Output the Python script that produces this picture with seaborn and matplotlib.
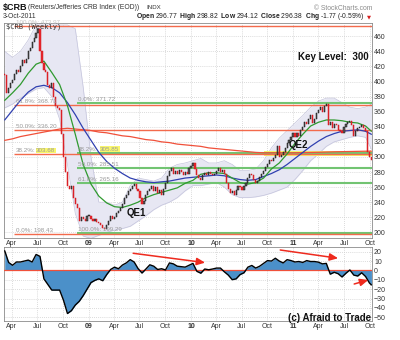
import numpy as np
import pandas as pd
import matplotlib
matplotlib.use("Agg")
import matplotlib.pyplot as plt
import seaborn as sns

# ---------------- data ----------------
first_week = "2008-03-07"
first_open = 410.0
closes = [408, 385, 392, 398, 402, 410, 415, 412, 420, 428,
          425, 430, 440, 445, 452, 458, 465, 470, 440, 425,
          415, 412, 395, 392, 398, 380, 368, 365, 362, 330,
          300, 280, 262, 258, 262, 245, 238, 232, 215, 220,
          218, 215, 222, 222, 218, 215, 218, 214, 212, 210,
          206, 205, 210, 215, 222, 218, 220, 225, 228, 232,
          238, 245, 250, 255, 258, 262, 264, 258, 255, 245,
          238, 242, 250, 255, 258, 262, 255, 260, 252, 256,
          250, 258, 265, 275, 282, 285, 278, 282, 278, 283,
          280, 276, 280, 278, 285, 288, 292, 284, 276, 272,
          270, 276, 279, 276, 280, 278, 276, 278, 282, 285,
          280, 283, 278, 265, 258, 252, 255, 250, 256, 262,
          260, 256, 262, 266, 272, 278, 276, 270, 266, 268,
          273, 278, 282, 286, 290, 296, 294, 298, 302, 314,
          300, 302, 306, 312, 318, 322, 326, 332, 326, 332,
          328, 336, 340, 346, 344, 350, 356, 345, 350, 358,
          362, 366, 360, 368, 370, 342, 346, 338, 344, 342,
          336, 334, 332, 340, 344, 346, 348, 342, 328, 334,
          338, 340, 342, 338, 334, 306, 300, 296.38]

# indicators sampled every 4th week (weeks 0,4,...,184) plus the last week
ma_green = [375, 385, 396, 411, 423, 427, 412, 396, 368, 330,
            290, 264, 248, 239, 234, 233, 236, 240, 246, 250,
            253, 256, 259, 265, 269, 277, 279, 279, 278, 272,
            266, 264, 266, 272, 284, 292, 304, 318, 330, 341,
            346, 349, 349, 348, 346, 345, 341, 334]
ma_blue = [349, 362, 375, 386, 393, 395, 392, 385, 372, 356,
           338, 322, 306, 294, 285, 278, 272, 269, 267, 266,
           267, 268, 270, 272, 273, 274, 275, 276, 275, 272,
           270, 269, 270, 274, 278, 283, 290, 298, 306, 314,
           321, 327, 331, 334, 335, 336, 334, 330]
ma_red = [322, 324, 327, 329, 331, 333, 335, 337, 338, 337,
          336, 335, 333, 332, 330, 328, 327, 325, 323, 322,
          320, 319, 317, 316, 315, 314, 312, 311, 310, 309,
          308, 307, 306, 305.5, 305.5, 305.5, 305.5, 305.5, 305.8, 306,
          306.2, 306.5, 306.8, 307, 307.2, 307.4, 307.6, 307.7]
bb_upper = [440, 432, 440, 455, 475, 482, 480, 475, 475, 470,
            393, 300, 240, 240, 236, 240, 262, 272, 270, 268,
            272, 285, 290, 292, 295, 298, 292, 292, 295, 290,
            282, 282, 284, 295, 312, 325, 335, 345, 355, 366,
            374, 378, 378, 372, 366, 364, 366, 370]
bb_lower = [365, 370, 378, 384, 390, 392, 380, 350, 290, 225,
            195, 192, 196, 200, 203, 205, 208, 215, 222, 230,
            236, 240, 246, 255, 262, 262, 264, 266, 260, 250,
            246, 246, 247, 249, 252, 256, 260, 270, 282, 295,
            304, 314, 320, 323, 326, 328, 326, 310]

# oscillator sampled every 2nd week (weeks 0,2,...,186) plus the last week
osc = [21, 8.5, 5.5, 9, 9, 10, 11, 9, 17, 15,
       -9, -15, -21, -21, -21, -32, -46, -43, -37, -33,
       -27, -20, -13, -10.6, -9, -11, -4.5, 1, 3.5, 1.8,
       5.7, 8, 11.5, 9, 2, -2.8, 1.5, 6, 4.5, 1,
       1.8, 0.5, 8, 7, 4.5, 4, 3.5, 5.5, 7.5, -1,
       -3, 1.5, 0.7, 1.5, 2.5, 2.5, -1.5, -5, -9.9, -9,
       -4.5, -2.5, 3.5, 5.3, 2.5, 4.5, 7.5, 10.5, 10, 13,
       10, 8, 11.5, 10.5, 9, 9.5, 8.5, 10.5, 9.5, 9.5,
       8.8, 7, 7.5, -4, -2, -3.5, -7, -3, 0.5, -5,
       -6, -2.5, -6.5, -13.5, -15.5]

fib1_levels = [473.97, 368.71, 336.20, 303.68, 198.43]
fib1_pcts = ["100.0%", "61.8%", "50.0%", "38.2%", "0.0%"]
fib2_levels = [371.72, 305.85, 285.51, 265.16, 199.29]
fib2_pcts = ["0.0%", "38.2%", "50.0%", "61.8%", "100.0%"]

tick_dates = ["2008-04-01", "2008-07-01", "2008-10-01", "2009-01-01",
              "2009-04-01", "2009-07-01", "2009-10-01", "2010-01-01",
              "2010-04-01", "2010-07-01", "2010-10-01", "2011-01-01",
              "2011-04-01", "2011-07-01", "2011-10-01"]
tick_labels = ["Apr", "Jul", "Oct", "09", "Apr", "Jul", "Oct", "10",
               "Apr", "Jul", "Oct", "11", "Apr", "Jul", "Oct"]
price_ticks = list(range(200, 461, 20))
osc_ticks = list(range(-50, 21, 10))

# ---------------- derived frames ----------------
dates = pd.date_range(first_week, periods=len(closes), freq="7D")
c = np.array(closes, dtype=float)
o = np.array([first_open] + closes[:-1], dtype=float)
ind_idx = list(range(0, 185, 4)) + [len(closes) - 1]
ind_dates = dates[ind_idx]
osc_idx = list(range(0, 187, 2)) + [len(closes) - 1]
osc_dates = dates[osc_idx]
ticks = pd.to_datetime(tick_dates)

# ---------------- style ----------------
sns.set_style("white")
plt.rcParams["font.family"] = ["Liberation Sans", "DejaVu Sans"]
plt.rcParams["mathtext.fontset"] = "custom"
plt.rcParams["mathtext.rm"] = "Liberation Sans"
plt.rcParams["mathtext.bf"] = "Liberation Sans:bold"

W, H = 400, 340
fig = plt.figure(figsize=(4.0, 3.4), dpi=100)
def fx(x): return x / W
def fy(y): return 1 - y / H

ax = fig.add_axes([fx(4), fy(238), 368 / W, 215 / H])
ax2 = fig.add_axes([fx(4), fy(321), 368 / W, 74 / H])

xl = (pd.Timestamp("2008-03-04 12:00"), pd.Timestamp("2011-10-09"))
GRID = dict(color="#cfcfcf", ls=(0, (1, 1.5)), lw=0.6)

# ---------------- main panel ----------------
ax.fill_between(ind_dates, bb_lower, bb_upper, color="#e7e7f3", lw=0, zorder=1)
ax.plot(ind_dates, bb_upper, color="#c4c4dc", lw=0.5, zorder=1.1)
ax.plot(ind_dates, bb_lower, color="#c4c4dc", lw=0.5, zorder=1.1)

ax.fill_between([pd.Timestamp("2010-09-20"), xl[1]], 301.0, 308.5,
                color="#f9f66a", lw=0, zorder=2.2)

f1_start = pd.Timestamp("2008-04-10")
f2_start = pd.Timestamp("2008-11-20")
ax.hlines(fib1_levels, f1_start, xl[1], colors="#f36a4c", lw=1.0, zorder=2.5)
ax.hlines(fib2_levels, f2_start, xl[1], colors="#72c472", lw=1.5, zorder=2.4)

lab_kw = dict(textcoords="offset pixels", fontsize=4.5, color="#9a9a9a",
              va="bottom", ha="left", zorder=6, annotation_clip=False)
hl_box = dict(boxstyle="square,pad=0.05", fc="#f9f66a", ec="none")
for lev, pct in zip(fib1_levels, fib1_pcts):
    if pct == "38.2%":
        ax.annotate(pct + ":", xy=(f1_start, lev), xytext=(2, 1), **lab_kw)
        ax.annotate(f"{lev:.2f}", xy=(f1_start, lev), xytext=(22, 1), bbox=hl_box, **lab_kw)
    else:
        kw = dict(lab_kw)
        if pct == "100.0%":
            kw["color"] = "#c4c4c4"
        ax.annotate(f"{pct}: {lev:.2f}", xy=(f1_start, lev), xytext=(2, 1), **kw)
for lev, pct in zip(fib2_levels, fib2_pcts):
    if pct == "38.2%":
        ax.annotate(pct + ":", xy=(f2_start, lev), xytext=(1, 1), **lab_kw)
        ax.annotate(f"{lev:.2f}", xy=(f2_start, lev), xytext=(23, 1), bbox=hl_box, **lab_kw)
    else:
        ax.annotate(f"{pct}: {lev:.2f}", xy=(f2_start, lev), xytext=(1, 1), **lab_kw)

sns.lineplot(x=ind_dates, y=ma_red, ax=ax, color="#f0503a", lw=0.9, zorder=3)
sns.lineplot(x=ind_dates, y=ma_blue, ax=ax, color="#3040b0", lw=0.9, zorder=3.1)
sns.lineplot(x=ind_dates, y=ma_green, ax=ax, color="#2f9a2f", lw=0.9, zorder=3.2)

body_lo = np.minimum(o, c)
body_h = np.maximum(np.abs(c - o), 1.2)
up = c >= o
ax.bar(dates[up], body_h[up], bottom=body_lo[up], width=4.2,
       color="#5a5a5a", edgecolor="#111111", lw=0.35, zorder=4)
ax.bar(dates[~up], body_h[~up], bottom=body_lo[~up], width=4.2,
       color="#e8262c", edgecolor="#d01a20", lw=0.35, zorder=4)

ax.set_ylim(192.5, 477.6)
ax.set_yticks(price_ticks)

# ---------------- lower panel ----------------
ax2.fill_between(osc_dates, osc, 0, color="#4b90c9", lw=0, zorder=2)
ax2.axhline(0, color="#f0503a", lw=0.9, zorder=3)
sns.lineplot(x=osc_dates, y=osc, ax=ax2, color="black", lw=1.0, zorder=4)
ax2.set_ylim(-54, 25)
ax2.set_yticks(osc_ticks)

def wk(i):
    return pd.Timestamp(first_week) + pd.Timedelta(days=7 * i)

arrow_kw = dict(arrowstyle="-|>,head_length=0.5,head_width=0.22",
                color="#ee2a1e", lw=1.1, shrinkA=0, shrinkB=0)
for (i0, v0, i1, v1) in [(65.5, 18.3, 102.2, 8.3),
                         (140.5, 21.8, 170.0, 13.0),
                         (178.2, -14.5, 185.4, -10.2)]:
    ax2.annotate("", xy=(wk(i1), v1), xytext=(wk(i0), v0),
                 arrowprops=arrow_kw, zorder=6, annotation_clip=False)

# ---------------- shared axis styling ----------------
for a in (ax, ax2):
    a.set_xlim(*xl)
    a.set_xticks(ticks)
    a.set_xticklabels(tick_labels)
    a.set_xlabel("")
    a.set_ylabel("")
    a.yaxis.tick_right()
    a.tick_params(axis="both", length=0, pad=1.5, labelsize=5, colors="#333")
    a.grid(True, **GRID)
    a.set_axisbelow(True)
    for s in a.spines.values():
        s.set_color("#8a8a8a")
        s.set_linewidth(0.6)
    for lab in a.get_xticklabels():
        if lab.get_text() in ("09", "10", "11"):
            lab.set_fontweight("bold")

# ---------------- texts ----------------
fig.text(fx(3), fy(7.5), "\\$CRB", fontsize=6.5, fontweight="bold", va="center", color="#111")
fig.text(fx(28), fy(7.5), "(Reuters/Jefferies CRB Index (EOD))", fontsize=4.9,
         va="center", color="#333")
fig.text(fx(146), fy(7.5), "INDX", fontsize=4.4, va="center", color="#333")
fig.text(fx(372), fy(8), "\u00a9 StockCharts.com", fontsize=4.9, va="center",
         ha="right", color="#8a8a8a")
fig.text(fx(3), fy(16.5), "3-Oct-2011", fontsize=4.9, va="center", color="#333")
fig.text(fx(365), fy(16.5),
         r"$\mathbf{Open}$ 296.77  $\mathbf{High}$ 298.82  $\mathbf{Low}$ 294.12  "
         r"$\mathbf{Close}$ 296.38  $\mathbf{Chg}$ -1.77 (-0.59%)",
         fontsize=4.9, va="center", ha="right", color="#222")
fig.text(fx(369), fy(16.8), "\u25bc", fontsize=3.8, va="center", ha="center",
         color="#d62020", family=["DejaVu Sans"])
fig.text(fx(6), fy(26.5), "\\$CRB (Weekly)", fontsize=5, va="center",
         color="#333", family=["DejaVu Sans Mono"])

fig.text(fx(333), fy(57), "Key Level:  300", fontsize=7, fontweight="bold",
         ha="center", va="center", color="#111")
fig.text(fx(136), fy(213), "QE1", fontsize=7, fontweight="bold",
         ha="center", va="center", color="#111")
fig.text(fx(298), fy(145), "QE2", fontsize=7, fontweight="bold",
         ha="center", va="center", color="#111")
fig.text(fx(371), fy(318), "(c) Afraid to Trade", fontsize=7, fontweight="bold",
         ha="right", va="center", color="#111")

fig.savefig("out.png", dpi=100, facecolor="white")
